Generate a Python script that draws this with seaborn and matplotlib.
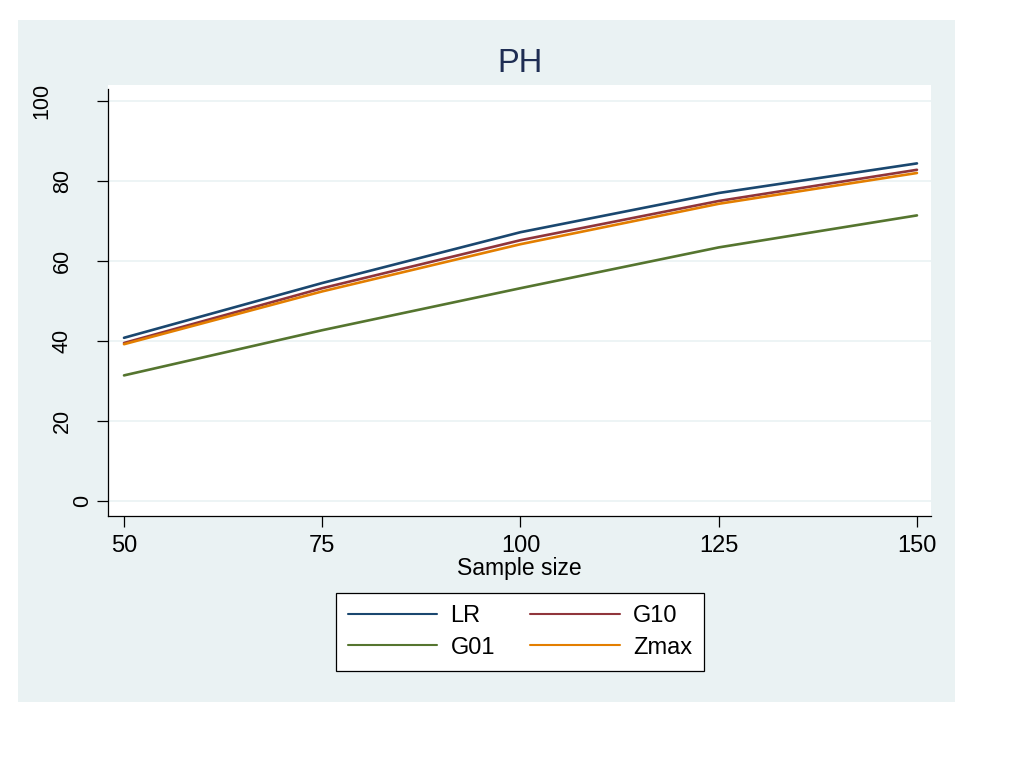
import numpy as np
import pandas as pd
import matplotlib
matplotlib.use("Agg")
import matplotlib.pyplot as plt
from matplotlib import font_manager
from matplotlib.patches import Rectangle
import seaborn as sns

# Data
sample_size = [50, 75, 100, 125, 150]
lr = [40.8, 54.5, 67.2, 77.0, 84.4]
g10 = [39.5, 53.2, 65.2, 75.0, 82.8]
g01 = [31.4, 42.7, 53.2, 63.4, 71.4]
zmax = [39.2, 52.4, 64.2, 74.3, 82.0]
y_ticks = [0, 20, 40, 60, 80, 100]

series = {"LR": lr, "G10": g10, "G01": g01, "Zmax": zmax}
palette = {"LR": "#1a476f", "G10": "#90353b", "G01": "#55752f", "Zmax": "#e37e00"}

df = pd.DataFrame(
    [(n, name, v) for name, vals in series.items() for n, v in zip(sample_size, vals)],
    columns=["Sample size", "method", "power"],
)

sns.set_style("white")
plt.rcParams["font.family"] = ["Liberation Sans", "DejaVu Sans"]
plt.rcParams["text.color"] = "black"
plt.rcParams["xtick.color"] = "black"
plt.rcParams["ytick.color"] = "black"
plt.rcParams["axes.labelcolor"] = "black"

# rotated y labels in the original use a condensed face
installed = {f.name for f in font_manager.fontManager.ttflist}
if "Liberation Sans Narrow" in installed:
    ylab_family, ylab_size = "Liberation Sans Narrow", 18
else:
    ylab_family, ylab_size = "Liberation Sans", 15.5

fig = plt.figure(figsize=(10.24, 7.68), dpi=100)
fig.patch.set_facecolor("white")
fig.add_artist(Rectangle((18 / 1024, 1 - 702 / 768), (955 - 18) / 1024, (702 - 20) / 768,
                         transform=fig.transFigure, facecolor="#eaf2f3", edgecolor="none", zorder=0))

ax = fig.add_axes([108 / 1024, 1 - 516 / 768, (931 - 108) / 1024, (516 - 85) / 768])
ax.set_facecolor("white")

sns.lineplot(data=df, x="Sample size", y="power", hue="method", palette=palette,
             linewidth=1.9, ax=ax, legend=False)

ax.set_xlim(47.98, 151.77)
ax.set_ylim(-3.75, 104)
ax.set_xticks(sample_size)
ax.set_yticks(y_ticks)
ax.yaxis.grid(True, color="#eaf2f3", linewidth=1.2)
ax.set_axisbelow(True)
for s in ["top", "right"]:
    ax.spines[s].set_visible(False)
for s in ["left", "bottom"]:
    ax.spines[s].set_color("black")
    ax.spines[s].set_linewidth(0.9)
ax.spines["left"].set_bounds(-3.75, 103)
ax.tick_params(axis="both", direction="out", length=8, width=0.9, color="black",
               left=True, bottom=True)
ax.tick_params(axis="x", labelsize=17, pad=6)
ax.tick_params(axis="y", labelleft=False)

# Stata-style rotated labels: distance from the axis grows with string length
for v in y_ticks:
    s = str(v)
    off_px = 4.5 + 20.5 * len(s)
    ax.annotate(s, xy=(0, v), xycoords=("axes fraction", "data"),
                xytext=(-off_px * 0.72, 0), textcoords="offset points",
                rotation=90, ha="center", va="center",
                fontsize=ylab_size, family=[ylab_family, "DejaVu Sans"])

ax.set_xlabel("Sample size", fontsize=16.5, labelpad=0)
ax.set_ylabel("")
ax.set_title("PH", fontsize=23.5, color="#1e2d53", pad=9)

handles = [plt.Line2D([], [], color=palette[k], linewidth=1.5) for k in ["LR", "G01", "G10", "Zmax"]]
labels = ["LR", "G01", "G10", "Zmax"]
leg = fig.legend(handles, labels, ncol=2, loc="center", bbox_to_anchor=(520 / 1024, 1 - 632 / 768),
                 fontsize=17, frameon=True, fancybox=False, handlelength=3.8, columnspacing=1.5,
                 handletextpad=0.55, borderpad=0.51, labelspacing=0.4, borderaxespad=0)
leg.get_frame().set_edgecolor("black")
leg.get_frame().set_linewidth(0.9)
leg.get_frame().set_facecolor("white")
leg.get_frame().set_alpha(1)

fig.savefig("out.png", dpi=100)
